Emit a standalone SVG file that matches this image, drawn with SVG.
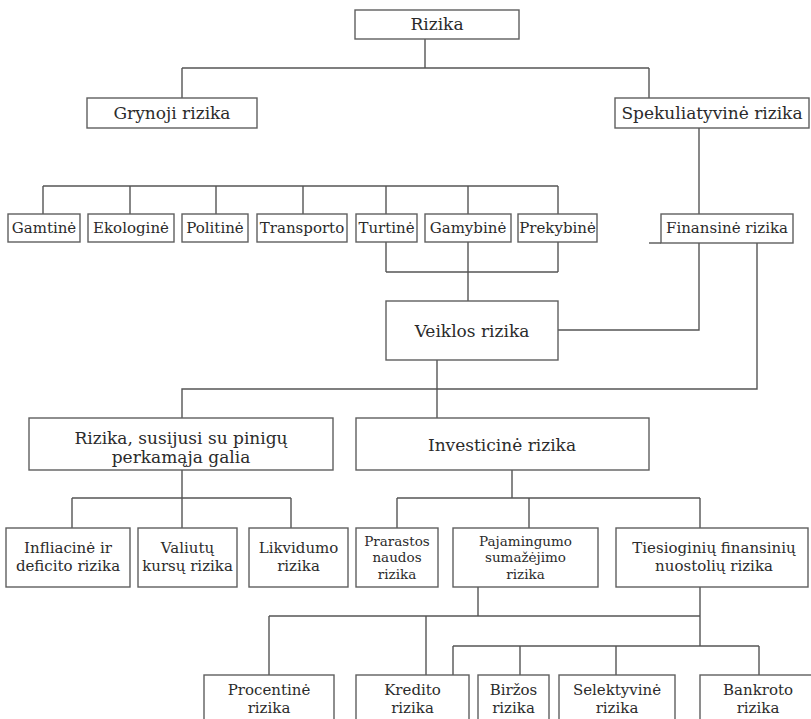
<svg xmlns="http://www.w3.org/2000/svg" width="811" height="719" viewBox="0 0 811 719">
  <style>
    .box { fill: #ffffff; stroke: #5f5f5f; stroke-width: 1.4; }
    .ln { fill: none; stroke: #555555; stroke-width: 1.4; }
    text { font-family: "DejaVu Serif", "Liberation Serif", serif; fill: #2b2b2b; text-anchor: middle; }
    .lg { font-size: 17px; }
    .sm { font-size: 15px; }
    .xs { font-size: 13.5px; }
  </style>
  <rect width="811" height="719" fill="#ffffff"/>

  <!-- connectors -->
  <g id="connectors" class="ln">
    <path d="M425 39 V68 M182 68 H649 M182 68 V98 M649 68 V98"/>
    <path d="M699 128 V214"/>
    <path d="M43 186 H558 M43 186 V214 M130 186 V214 M216 186 V214 M303 186 V214 M386 186 V214 M468 186 V214 M558 186 V214"/>
    <path d="M386 242 V272 M558 242 V272 M386 272 H558 M468 242 V301"/>
    <path d="M649 243 H661"/>
    <path d="M699 243 V330 H558"/>
    <path d="M757 243 V389 H182 V418"/>
    <path d="M437 360 V418"/>
    <path d="M182 470 V498 M72 498 H291 M72 498 V528 M182 498 V528 M291 498 V528"/>
    <path d="M512 470 V498 M397 498 H700 M397 498 V528 M529 498 V528 M700 498 V528"/>
    <path d="M478 587 V616 M269 616 H700 M700 587 V646 M269 616 V675 M426 616 V675"/>
    <path d="M453 646 H759 M453 646 V675 M520 646 V675 M616 646 V675 M759 646 V675"/>
  </g>

  <!-- level 0 -->
  <g id="rizika">
    <rect class="box" x="355" y="10" width="164" height="29"/>
    <text class="lg" x="437" y="30">Rizika</text>
  </g>

  <!-- level 1 -->
  <g id="grynoji">
    <rect class="box" x="87" y="98" width="170" height="30"/>
    <text class="lg" x="172" y="119">Grynoji rizika</text>
  </g>
  <g id="spekuliatyvine">
    <rect class="box" x="615" y="98" width="194" height="30"/>
    <text class="lg" x="712" y="119">Spekuliatyvinė rizika</text>
  </g>

  <!-- pure risk kinds -->
  <g id="gamtine">
    <rect class="box" x="8" y="214" width="72" height="28"/>
    <text class="sm" x="44" y="233">Gamtinė</text>
  </g>
  <g id="ekologine">
    <rect class="box" x="88" y="214" width="86" height="28"/>
    <text class="sm" x="131" y="233">Ekologinė</text>
  </g>
  <g id="politine">
    <rect class="box" x="182" y="214" width="66" height="28"/>
    <text class="sm" x="215" y="233">Politinė</text>
  </g>
  <g id="transporto">
    <rect class="box" x="257" y="214" width="90" height="28"/>
    <text class="sm" x="302" y="233">Transporto</text>
  </g>
  <g id="turtine">
    <rect class="box" x="356" y="214" width="61" height="28"/>
    <text class="sm" x="386.5" y="233">Turtinė</text>
  </g>
  <g id="gamybine">
    <rect class="box" x="425" y="214" width="86" height="28"/>
    <text class="sm" x="468" y="233">Gamybinė</text>
  </g>
  <g id="prekybine">
    <rect class="box" x="518" y="214" width="79" height="28"/>
    <text class="sm" x="557.5" y="233">Prekybinė</text>
  </g>
  <g id="finansine">
    <rect class="box" x="661" y="214" width="132" height="29"/>
    <text class="sm" x="727" y="233">Finansinė rizika</text>
  </g>

  <!-- business risk -->
  <g id="veiklos">
    <rect class="box" x="386" y="301" width="172" height="59"/>
    <text class="lg" x="472" y="337">Veiklos rizika</text>
  </g>

  <!-- level 3 -->
  <g id="perkamoji-galia">
    <rect class="box" x="29" y="418" width="304" height="52"/>
    <text class="lg" x="181" y="444">Rizika, susijusi su pinigų</text>
    <text class="lg" x="181" y="463">perkamąja galia</text>
  </g>
  <g id="investicine">
    <rect class="box" x="356" y="418" width="293" height="52"/>
    <text class="lg" x="502" y="451">Investicinė rizika</text>
  </g>

  <!-- level 4 -->
  <g id="infliacine">
    <rect class="box" x="6" y="528" width="124" height="59"/>
    <text class="sm" x="68" y="553">Infliacinė ir</text>
    <text class="sm" x="68" y="571">deficito rizika</text>
  </g>
  <g id="valiutu">
    <rect class="box" x="138" y="528" width="99" height="59"/>
    <text class="sm" x="187.5" y="553">Valiutų</text>
    <text class="sm" x="187.5" y="571">kursų rizika</text>
  </g>
  <g id="likvidumo">
    <rect class="box" x="249" y="528" width="99" height="59"/>
    <text class="sm" x="298.5" y="553">Likvidumo</text>
    <text class="sm" x="298.5" y="571">rizika</text>
  </g>
  <g id="prarastos-naudos">
    <rect class="box" x="356" y="528" width="82" height="59"/>
    <text class="xs" x="397" y="545.5">Prarastos</text>
    <text class="xs" x="397" y="562">naudos</text>
    <text class="xs" x="397" y="578.5">rizika</text>
  </g>
  <g id="pajamingumo">
    <rect class="box" x="453" y="528" width="145" height="59"/>
    <text class="xs" x="525.5" y="545.5">Pajamingumo</text>
    <text class="xs" x="525.5" y="562">sumažėjimo</text>
    <text class="xs" x="525.5" y="578.5">rizika</text>
  </g>
  <g id="tiesioginiu">
    <rect class="box" x="616" y="528" width="192" height="59"/>
    <text class="sm" x="714" y="553">Tiesioginių finansinių</text>
    <text class="sm" x="714" y="571">nuostolių rizika</text>
  </g>

  <!-- level 5 -->
  <g id="procentine">
    <rect class="box" x="204" y="675" width="130" height="60"/>
    <text class="sm" x="269" y="695">Procentinė</text>
    <text class="sm" x="269" y="713">rizika</text>
  </g>
  <g id="kredito">
    <rect class="box" x="356" y="675" width="113" height="60"/>
    <text class="sm" x="412.5" y="695">Kredito</text>
    <text class="sm" x="412.5" y="713">rizika</text>
  </g>
  <g id="birzos">
    <rect class="box" x="478" y="675" width="71" height="60"/>
    <text class="sm" x="513.5" y="695">Biržos</text>
    <text class="sm" x="513.5" y="713">rizika</text>
  </g>
  <g id="selektyvine">
    <rect class="box" x="559" y="675" width="116" height="60"/>
    <text class="sm" x="617" y="695">Selektyvinė</text>
    <text class="sm" x="617" y="713">rizika</text>
  </g>
  <g id="bankroto">
    <rect class="box" x="700" y="675" width="116" height="60"/>
    <text class="sm" x="758" y="695">Bankroto</text>
    <text class="sm" x="758" y="713">rizika</text>
  </g>
</svg>
